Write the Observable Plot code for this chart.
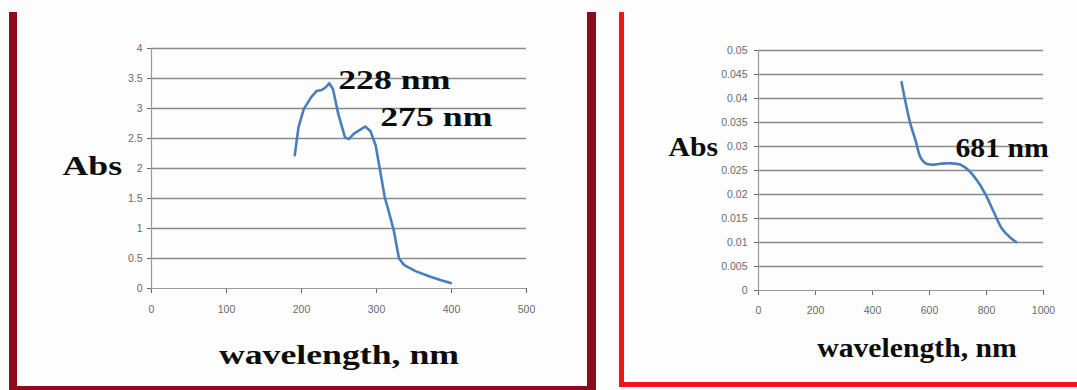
<!DOCTYPE html>
<html>
<head>
<meta charset="utf-8">
<script src="https://cdn.jsdelivr.net/npm/d3@7"></script>
<script src="https://cdn.jsdelivr.net/npm/@observablehq/plot@0.6"></script>
<style>
  html, body { margin: 0; padding: 0; background: #fdfdfd; }
  #page { position: relative; width: 1077px; height: 390px; overflow: hidden; background: #fdfdfd; }
  .frame { position: absolute; box-sizing: border-box; pointer-events: none; }
  #leftFrame { left: 9px; top: 12px; width: 587px; height: 378px;
    border-left: 8px solid #8c0b1d; border-right: 9px solid #8c0b1d; border-bottom: 4px solid #8c0b1d; }
  #rightFrame { left: 619px; top: 12px; width: 458px; height: 375px;
    border-left: 5px solid #f3141e; border-bottom: 5px solid #f3141e; }
  .chart { position: absolute; top: 0; }
</style>
</head>
<body>
<div id="page">
  <div id="leftFrame" class="frame"></div>
  <div id="rightFrame" class="frame"></div>
</div>
<script>
// UV spectrum (left panel)
const uvWavelength = [191, 196, 203, 213, 220, 227, 232, 237, 242, 249, 258, 263, 270, 280, 285, 292, 299, 304, 311, 316, 323, 330, 337, 352, 371, 385, 399];
const uvAbs = [2.22, 2.69, 2.99, 3.19, 3.29, 3.31, 3.35, 3.42, 3.32, 2.91, 2.52, 2.49, 2.58, 2.66, 2.70, 2.62, 2.38, 2.02, 1.52, 1.30, 0.97, 0.50, 0.39, 0.29, 0.20, 0.14, 0.09];
const uvXTicks = [0, 100, 200, 300, 400, 500];
const uvYTicks = [0, 0.5, 1, 1.5, 2, 2.5, 3, 3.5, 4];
const uvPeakLabels = ["228 nm", "275 nm"];

// Visible spectrum (right panel)
const visWavelength = [502, 516, 533, 551, 568, 586, 609, 638, 674, 709, 738, 767, 796, 826, 855, 884, 904];
const visAbs = [0.0434, 0.0392, 0.0347, 0.0313, 0.0278, 0.0265, 0.0262, 0.0264, 0.0265, 0.0262, 0.0250, 0.0229, 0.0201, 0.0163, 0.0128, 0.0110, 0.0101];
const visXTicks = [0, 200, 400, 600, 800, 1000];
const visYTicks = [0, 0.005, 0.01, 0.015, 0.02, 0.025, 0.03, 0.035, 0.04, 0.045, 0.05];
const visPeakLabels = ["681 nm"];

const axisTitleX = "wavelength, nm";
const axisTitleY = "Abs";

const lineColor = "#4a7ebb";
const gridColor = "#8a8a8a";
const serif = "'Liberation Serif', 'Times New Roman', serif";
const sans = "'Liberation Sans', Arial, sans-serif";

// Widen the serif captions horizontally around their anchor point
function widenText(svg, sx) {
  svg.querySelectorAll('g[aria-label="text"] text').forEach(t => {
    const tr = t.getAttribute("transform") || "";
    t.setAttribute("transform", tr + ` scale(${sx},1)`);
  });
}

function spectrum({wl, abs, curve, xDomain, yDomain, xTicks, yTicks, labels, labelPos,
                   width, margins, fontSize, stretch, xTitleDx, xTitleDy, yTitleDx, yTitleDy, tickPadX, tickPadY}) {
  const points = wl.map((w, i) => ({w, a: abs[i]}));
  const notes = labels.map((text, i) => ({text, x: labelPos[i][0], y: labelPos[i][1]}));
  const captionStyle = {fontFamily: serif, fontWeight: "bold", fontSize, fill: "#0d0d0d"};
  const svg = Plot.plot({
    width, height: 390,
    marginLeft: margins[0], marginRight: margins[1], marginTop: margins[2], marginBottom: margins[3],
    style: {background: "transparent", fontFamily: sans, fontSize: "10.5px", color: "#6a6a6a", overflow: "visible"},
    x: {domain: xDomain, ticks: xTicks, tickFormat: d => String(d), label: null, tickSize: 5, tickPadding: tickPadX},
    y: {domain: yDomain, ticks: yTicks, tickFormat: d => String(+d.toFixed(3)), label: null, tickSize: 4, tickPadding: tickPadY},
    marks: [
      Plot.ruleY(yTicks.filter(d => d > 0), {stroke: gridColor, strokeWidth: 1.7}),
      Plot.ruleY([0], {stroke: "#9a9a9a", strokeWidth: 1.2}),
      Plot.ruleX([0], {stroke: "#9a9a9a", strokeWidth: 1.2}),
      Plot.line(points, {x: "w", y: "a", stroke: lineColor, strokeWidth: 2.6, curve}),
      Plot.text(notes, {x: "x", y: "y", text: "text", textAnchor: "start", lineAnchor: "middle", ...captionStyle}),
      Plot.text([axisTitleY], {frameAnchor: "left", textAnchor: "start", lineAnchor: "middle", dx: yTitleDx, dy: yTitleDy, ...captionStyle}),
      Plot.text([axisTitleX], {frameAnchor: "bottom", textAnchor: "middle", lineAnchor: "middle", dx: xTitleDx, dy: xTitleDy, ...captionStyle})
    ]
  });
  widenText(svg, stretch);
  return svg;
}

const leftChart = spectrum({
  wl: uvWavelength, abs: uvAbs, curve: "linear", xDomain: [0, 500], yDomain: [0, 4],
  xTicks: uvXTicks, yTicks: uvYTicks, labels: uvPeakLabels,
  labelPos: [[249, 3.47], [305, 2.85]],
  width: 580, margins: [151, 54, 48, 102], fontSize: 27.5, stretch: 1.3,
  xTitleDx: 0, xTitleDy: 67, yTitleDx: -89, yTitleDy: -2, tickPadX: 12, tickPadY: 5
});
leftChart.classList.add("chart");
leftChart.style.left = "0px";

const rightChart = spectrum({
  wl: visWavelength, abs: visAbs, curve: "catmull-rom", xDomain: [0, 1000], yDomain: [0, 0.05],
  xTicks: visXTicks, yTicks: visYTicks, labels: visPeakLabels,
  labelPos: [[691, 0.0296]],
  width: 477, margins: [158, 34, 50, 100], fontSize: 27, stretch: 1.1,
  xTitleDx: 16, xTitleDy: 58, yTitleDx: -90, yTitleDy: -23, tickPadX: 11, tickPadY: 7
});
rightChart.classList.add("chart");
rightChart.style.left = "600px";

const page = document.getElementById("page");
page.insertBefore(rightChart, page.firstChild);
page.insertBefore(leftChart, page.firstChild);
</script>
</body>
</html>
